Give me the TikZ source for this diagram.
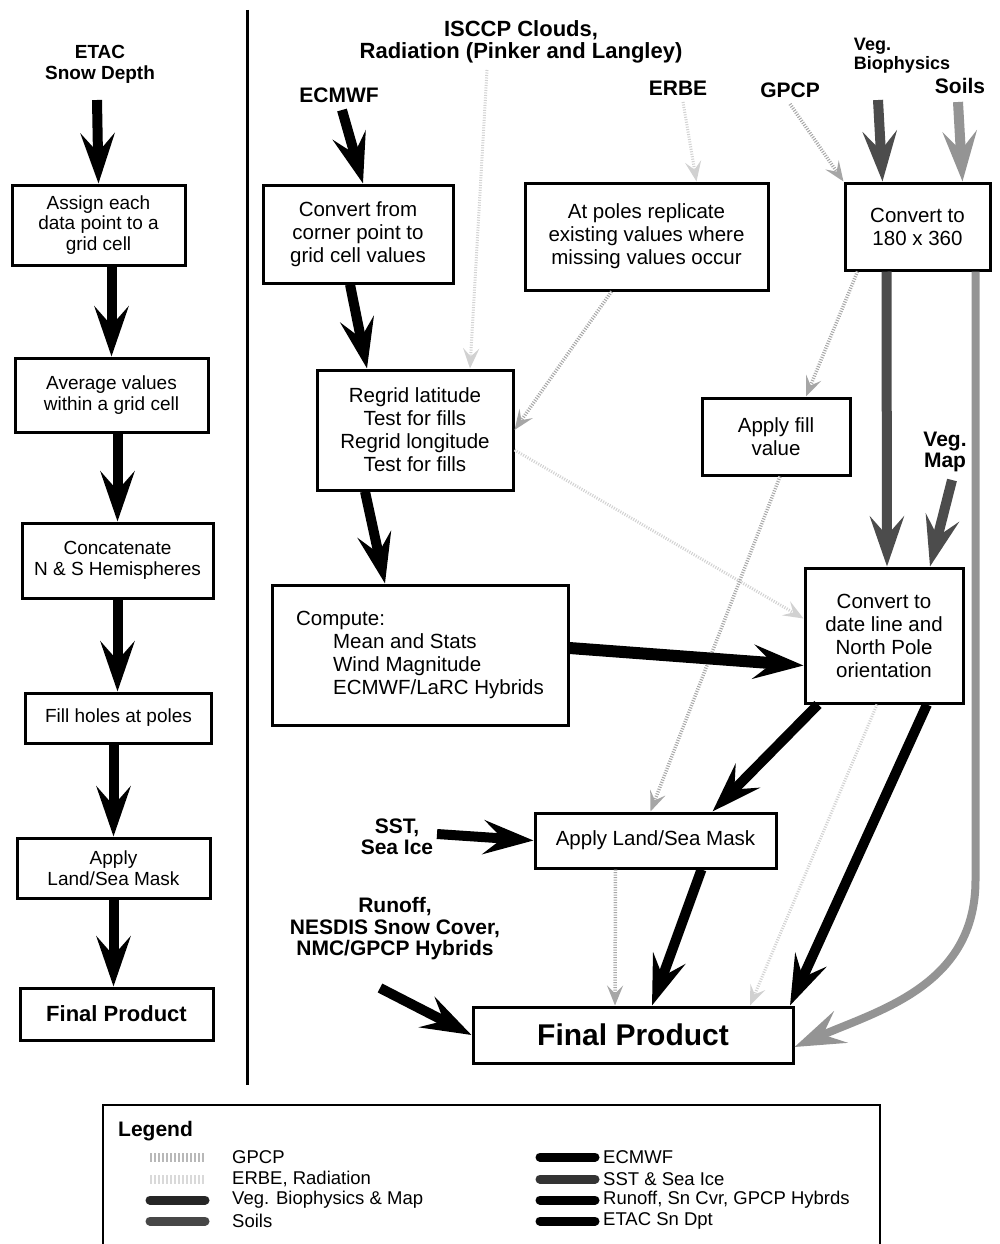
\documentclass[tikz,border=0pt]{standalone}
\usepackage{fontspec}
\setmainfont{Liberation Sans}
\usetikzlibrary{arrows.meta}
\newcommand\lbxfont{\fontsize{19}{20.5}\selectfont}
\newcommand\rbxfont{\fontsize{20.5}{23}\selectfont}
\newcommand\lblfont{\fontsize{21}{21.5}\selectfont\bfseries}
\newcommand\lgdfont{\fontsize{18.5}{19}\selectfont}
\begin{document}
\begin{tikzpicture}[x=1pt,y=-1pt,
  box/.style={draw, line width=3pt, inner sep=0pt, align=center},
  lbox/.style={box, font=\lbxfont},
  rbox/.style={box, font=\rbxfont},
  lab/.style={font=\lblfont, align=center, inner sep=0pt},
  fat/.style={line width=10pt, -{Stealth[length=50pt,width=34pt,inset=19pt]}},
  vegA/.style={fat, draw=black!70},
  soilA/.style={fat, draw=black!42},
  gpcpA/.style={line width=3.5pt, draw=black!35, dash pattern=on 1pt off 1.5pt,
     -{Stealth[length=20pt,width=16pt,inset=8pt]}},
  erbeA/.style={gpcpA, line width=3pt, draw=black!18},
  lgdtext/.style={font=\lgdfont, anchor=west, inner sep=0pt},
  sample/.style={line width=9pt, line cap=round}
]
\useasboundingbox[fill=white] (0,0) rectangle (999,1244);

% divider
\draw[line width=3pt] (247,10) -- (247,1085);

% ---------- left column ----------
\node[lab, font=\fontsize{19}{21}\selectfont\bfseries] (etac) at (100,64) {ETAC\\Snow Depth};
\node[lbox, minimum width=173pt, minimum height=80pt] (L1) at (98.5,225) {Assign each\\data point to a\\grid cell};
\node[lbox, minimum width=193pt, minimum height=74pt] (L2) at (111.5,395) {Average values\\within a grid cell};
\node[lbox, minimum width=191pt, minimum height=75pt] (L3) at (117.5,560.5) {Concatenate\\N \& S Hemispheres};
\node[lbox, minimum width=186pt, minimum height=50pt] (L4) at (118.5,718) {Fill holes at poles};
\node[lbox, minimum width=193pt, minimum height=60pt] (L5) at (113.5,868) {Apply\\Land/Sea Mask};
\node[box, font=\fontsize{22}{24}\selectfont\bfseries, minimum width=193pt, minimum height=52pt] (L6) at (116.5,1014) {Final Product};

\coordinate (etacT) at (97,100);
\draw[fat] (etacT) -- (L1.north);
\draw[fat] (L2.north |- L1.south) -- (L2.north);
\draw[fat] (L3.north |- L2.south) -- (L3.north);
\draw[fat] (L3.south) -- (L3.south |- L4.north);
\draw[fat] (L4.south -| L5.north) -- (L5.north);
\draw[fat] (L5.south) -- (L5.south |- L6.north);

% ---------- right part: labels ----------
\node[lab, font=\fontsize{22}{22}\selectfont\bfseries] (isccp) at (521,42) {ISCCP Clouds,\\Radiation (Pinker and Langley)};
\node[lab] (ecmwf) at (339,95) {ECMWF};
\node[lab] (erbe) at (678,88) {ERBE};
\node[lab] (gpcp) at (790,90) {GPCP};
\node[lab, align=left, font=\fontsize{18}{19}\selectfont\bfseries] (veg) at (902,56) {Veg.\\Biophysics};
\node[lab] (soils) at (960,86) {Soils};
\node[lab] (vegmap) at (945,452) {Veg.\\Map};
\node[lab] (sst) at (397,837) {SST,\\Sea Ice};
\node[lab] (runoff) at (395,929) {Runoff,\\NESDIS Snow Cover,\\NMC/GPCP Hybrids};

% ---------- right part: boxes ----------
\node[rbox, minimum width=190pt, minimum height=98pt] (cf) at (358,234) {Convert from\\corner point to\\grid cell values};
\node[rbox, minimum width=243pt, minimum height=107pt] (ap) at (646.5,236.5) {At poles replicate\\existing values where\\missing values occur};
\node[rbox, minimum width=145pt, minimum height=87pt] (c180) at (917.5,226.5) {Convert to\\180 x 360};
\node[rbox, minimum width=196pt, minimum height=120pt] (rg) at (415,430) {Regrid latitude\\Test for fills\\Regrid longitude\\Test for fills};
\node[rbox, minimum width=148pt, minimum height=77pt] (af) at (776,436.5) {Apply fill\\value};
\node[box, font=\rbxfont, align=left, minimum width=296pt, minimum height=140pt] (cm) at (420,655)
  {Compute:\\\hspace*{37pt}Mean and Stats\\\hspace*{37pt}Wind Magnitude\\\hspace*{37pt}ECMWF/LaRC Hybrids};
\node[rbox, minimum width=158pt, minimum height=135pt] (dl) at (884,635.5) {Convert to\\date line and\\North Pole\\orientation};
\node[rbox, minimum width=241pt, minimum height=55pt] (lm) at (655.5,840.5) {Apply Land/Sea Mask};
\node[box, font=\fontsize{30}{32}\selectfont\bfseries, minimum width=320pt, minimum height=56pt] (fp) at (633,1035) {Final Product};

% ---------- free ends ----------
\coordinate (ecmwfT) at (342,110);
\coordinate (sstT) at (437,834);
\coordinate (runoffT) at (380,988);
\coordinate (vegT) at (878,100);
\coordinate (soilsT) at (958,102);
\coordinate (vegmapT) at (952,480);
\coordinate (gpcpT) at (790,104);
\coordinate (erbeT) at (683,102);
\coordinate (isccpT) at (487,70);
\coordinate (soilsK) at (975.5,880);

% ---------- faint arrows (GPCP, ERBE, radiation) ----------
\draw[erbeA] (isccpT) -- ([xshift=55pt]rg.north);
\draw[erbeA] (erbeT) -- ([xshift=50pt]ap.north);
\draw[gpcpA] ([xshift=-35pt]ap.south) -- (rg.east);
\draw[erbeA] ([yshift=-20pt]rg.east) -- ([yshift=17pt]dl.west);
\draw[erbeA] ([xshift=-7pt]dl.south) -- ([xshift=117pt]fp.north);
\draw[gpcpA] (gpcpT) -- (c180.north west);
\draw[gpcpA] ([xshift=-60pt]c180.south) -- ([xshift=30pt]af.north);
\draw[gpcpA] ([xshift=4pt]af.south) -- ([xshift=-5pt]lm.north);
\draw[gpcpA] ([xshift=-40pt]lm.south) -- ([xshift=-18pt]fp.north);

% ---------- ECMWF path ----------
\draw[fat] (ecmwfT) -- ([xshift=5pt]cf.north);
\draw[fat] ([xshift=-8pt]cf.south) -- ([xshift=-48pt]rg.north);
\draw[fat] ([xshift=-50pt]rg.south) -- ([xshift=-35pt]cm.north);
\draw[fat, line width=12pt] ([yshift=7pt]cm.east) -- ([yshift=-30pt]dl.west);
\draw[fat] ([xshift=-66pt]dl.south) -- ([xshift=57pt]lm.north);
\draw[fat] ([xshift=46pt]lm.south) -- ([xshift=19pt]fp.north);
\draw[fat] ([xshift=43pt]dl.south) -- ([xshift=157pt]fp.north);
\draw[fat] (sstT) -- (lm.west);
\draw[fat] (runoffT) -- (fp.west);

% ---------- Veg and Soils ----------
\draw[vegA] (vegT) -- ([xshift=-35pt]c180.north);
\draw[soilA] (soilsT) -- ([xshift=45pt]c180.north);
\draw[vegA] ([xshift=-31pt]c180.south) -- ([xshift=3pt]dl.north);
\draw[vegA] (vegmapT) -- ([xshift=46pt]dl.north);
\draw[soilA, line width=8pt] ([xshift=58pt]c180.south) -- (soilsK)
   .. controls (975.5,985) and (880,1010) .. ([yshift=-12pt]fp.east);

% ---------- legend ----------
\draw[line width=2pt] (103,1244) -- (103,1105) -- (880,1105) -- (880,1244);
\node[font=\fontsize{21}{22}\selectfont\bfseries, anchor=west, inner sep=0pt] (lgd) at (118,1131) {Legend};
\draw[sample, draw=black!28, dash pattern=on 2pt off 2pt, line cap=butt] (150,1157) -- (205,1157);
\draw[sample, draw=black!15, dash pattern=on 2pt off 2pt, line cap=butt] (150,1179) -- (205,1179);
\draw[sample, draw=black!85] (150,1200) -- (205,1200);
\draw[sample, draw=black!72] (150,1221) -- (205,1221);
\draw[sample, draw=black] (540,1157) -- (595,1157);
\draw[sample, draw=black!80] (540,1179) -- (595,1179);
\draw[sample, draw=black] (540,1200) -- (595,1200);
\draw[sample, draw=black] (540,1221) -- (595,1221);
\node[lgdtext] (g1) at (232,1157) {GPCP};
\node[lgdtext] (g2) at (232,1179) {ERBE, Radiation};
\node[lgdtext] (g3) at (232,1200) {Veg. Biophysics \& Map};
\node[lgdtext] (g4) at (232,1221) {Soils};
\node[lgdtext] (g5) at (603,1157) {ECMWF};
\node[lgdtext] (g6) at (603,1179) {SST \& Sea Ice};
\node[lgdtext] (g7) at (603,1200) {Runoff, Sn Cvr, GPCP Hybrds};
\node[lgdtext] (g8) at (603,1221) {ETAC Sn Dpt};
\end{tikzpicture}
\end{document}
